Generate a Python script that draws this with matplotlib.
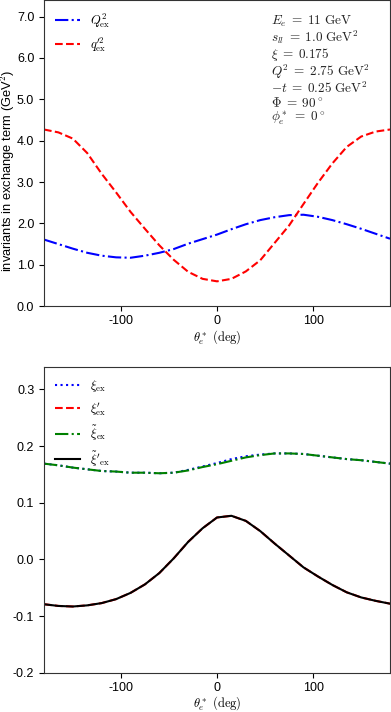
# invariants and skewness variables in the exchange term vs theta_e*

import matplotlib
matplotlib.use("Agg")
import matplotlib.pyplot as plt

plt.rcParams['font.family'] = ['Liberation Sans', 'DejaVu Sans']
plt.rcParams['font.size'] = 9
plt.rcParams['mathtext.fontset'] = 'cm'
plt.rcParams['axes.unicode_minus'] = False
plt.rcParams['xtick.major.pad'] = 3

# angle grid (deg)
theta = [-180, -165, -150, -135, -120, -105, -90, -75, -60, -45, -30, -15, 0,
         15, 30, 45, 60, 75, 90, 105, 120, 135, 150, 165, 180]

# top panel (GeV^2)
Q2_ex = [1.61, 1.50, 1.39, 1.29, 1.22, 1.18, 1.17, 1.22, 1.29, 1.38, 1.51, 1.62, 1.73,
         1.86, 1.98, 2.08, 2.15, 2.20, 2.21, 2.16, 2.08, 1.98, 1.87, 1.75, 1.63]
q2_ex = [4.27, 4.20, 4.05, 3.70, 3.20, 2.75, 2.28, 1.87, 1.47, 1.12, 0.83, 0.66, 0.60,
         0.66, 0.84, 1.11, 1.53, 1.95, 2.47, 2.98, 3.45, 3.85, 4.10, 4.22, 4.27]

# bottom panel
xi_ex = [0.169, 0.166, 0.162, 0.159, 0.156, 0.155, 0.153, 0.153, 0.152, 0.153, 0.158, 0.164, 0.170,
         0.177, 0.182, 0.185, 0.187, 0.187, 0.186, 0.183, 0.180, 0.177, 0.175, 0.172, 0.169]
xi_tilde_ex = [0.169, 0.166, 0.162, 0.159, 0.156, 0.155, 0.153, 0.153, 0.152, 0.153, 0.157, 0.163, 0.168,
               0.174, 0.180, 0.184, 0.187, 0.187, 0.186, 0.183, 0.180, 0.177, 0.175, 0.172, 0.169]
xi_prime_ex = [-0.079, -0.082, -0.083, -0.081, -0.077, -0.070, -0.059, -0.044, -0.024, 0.002, 0.031, 0.055, 0.074,
               0.077, 0.068, 0.050, 0.028, 0.007, -0.014, -0.030, -0.045, -0.058, -0.067, -0.073, -0.078]
xi_tilde_prime_ex = list(xi_prime_ex)

params = ("$E_e\\;=\\;11\\ \\mathrm{GeV}$\n"
          "$s_{ll}\\;=\\;1.0\\ \\mathrm{GeV}^2$\n"
          "$\\xi\\;=\\;0.175$\n"
          "$Q^2\\;=\\;2.75\\ \\mathrm{GeV}^2$\n"
          "$-t\\;=\\;0.25\\ \\mathrm{GeV}^2$\n"
          "$\\Phi\\;=\\;90^\\circ$\n"
          "$\\phi_e^*\\;=\\;0^\\circ$")

fig = plt.figure(figsize=(3.91, 7.12), dpi=100)
ax1 = fig.add_axes([0.1125, 0.570, 0.885, 0.430])
ax2 = fig.add_axes([0.1125, 0.055, 0.885, 0.430])

ax1.plot(theta, Q2_ex, color='blue', linestyle='-.', lw=1.5, label='$Q^2_{\\mathrm{ex}}$')
ax1.plot(theta, q2_ex, color='red', linestyle='--', lw=1.5, label="$q^{\\prime 2}_{\\mathrm{ex}}$")
ax1.set_xlim(-180, 180)
ax1.set_ylim(0, 7.4)
ax1.set_yticks([0, 1, 2, 3, 4, 5, 6, 7])
ax1.set_yticklabels(['%.1f' % v for v in [0, 1, 2, 3, 4, 5, 6, 7]])
ax1.set_xticks([-100, 0, 100])
ax1.set_xlabel('$\\theta_e^*\\ \\mathrm{(deg)}$', fontsize=9, labelpad=1)
ax1.set_ylabel('invariants in exchange term (GeV$^2$)', fontsize=9.3)
ax1.yaxis.set_label_coords(-0.078, 0.444)
ax1.legend(loc='upper left', frameon=False, fontsize=9)
ax1.text(0.655, 0.955, params, transform=ax1.transAxes, va='top', ha='left',
         fontsize=9.5, color='#222222', linespacing=0.98)

ax2.plot(theta, xi_ex, color='blue', linestyle=':', lw=1.5, label='$\\xi_{\\mathrm{ex}}$')
ax2.plot(theta, xi_prime_ex, color='red', linestyle='--', lw=1.5, label="$\\xi^{\\prime}_{\\mathrm{ex}}$")
ax2.plot(theta, xi_tilde_ex, color='green', linestyle='-.', lw=1.5, label='$\\tilde{\\xi}_{\\mathrm{ex}}$')
ax2.plot(theta, xi_tilde_prime_ex, color='black', linestyle='-', lw=1.5,
         label="$\\tilde{\\xi}^{\\prime}{}_{\\mathrm{ex}}$")
ax2.set_xlim(-180, 180)
ax2.set_ylim(-0.2, 0.34)
ax2.set_yticks([-0.2, -0.1, 0.0, 0.1, 0.2, 0.3])
ax2.set_yticklabels(['%.1f' % v for v in [-0.2, -0.1, 0.0, 0.1, 0.2, 0.3]])
ax2.set_xticks([-100, 0, 100])
ax2.set_xlabel('$\\theta_e^*\\ \\mathrm{(deg)}$', fontsize=9, labelpad=0)
ax2.legend(loc='upper left', frameon=False, fontsize=9)

for ax in (ax1, ax2):
    for s in ax.spines.values():
        s.set_color('#333333')

fig.savefig('out.png', dpi=100)
